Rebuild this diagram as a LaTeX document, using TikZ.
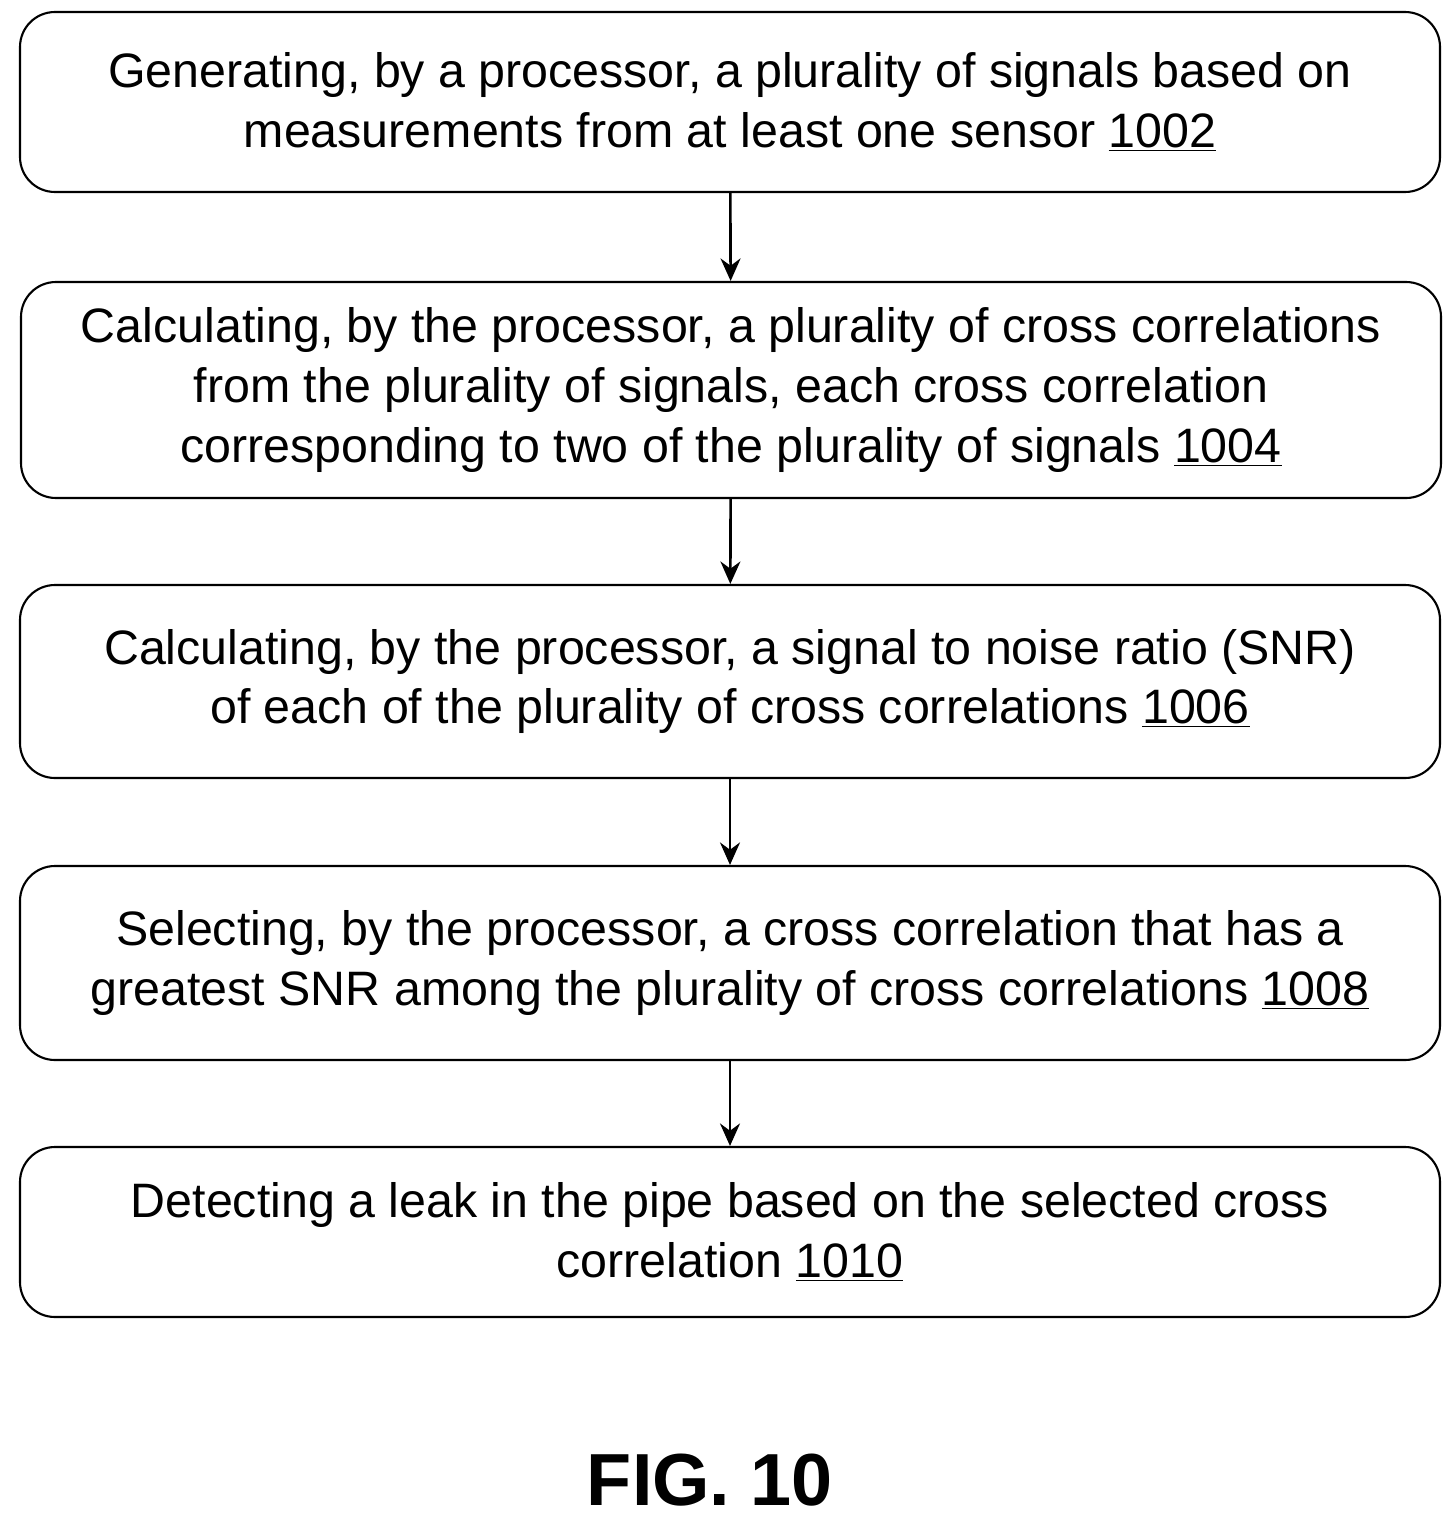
\documentclass[tikz,border=0pt]{standalone}
\usepackage{fontspec}
\setmainfont{Liberation Sans}
\usetikzlibrary{arrows.meta}
\begin{document}
\begin{tikzpicture}[
  stepbox/.style={draw, line width=1.2pt, rounded corners=0.7cm, minimum width=28.4cm,
    align=center, font=\fontsize{27.5}{34}\selectfont},
  flow/.style={-{Stealth[length=0.45cm, width=0.4cm]}, line width=1.5pt}]
\useasboundingbox (0,0) rectangle (29.1,-30.54);
\node [stepbox, minimum height=3.6cm] (s1) at (14.6,-2.04)
  {Generating, by a processor, a plurality of signals based on\\measurements from at least one sensor \underline{1002}};
\node [stepbox, minimum height=4.32cm] (s2) at (14.62,-7.8)
  {Calculating, by the processor, a plurality of cross correlations\\from the plurality of signals, each cross correlation\\corresponding to two of the plurality of signals \underline{1004}};
\node [stepbox, minimum height=3.86cm] (s3) at (14.6,-13.63)
  {Calculating, by the processor, a signal to noise ratio (SNR)\\of each of the plurality of cross correlations \underline{1006}};
\node [stepbox, minimum height=3.88cm] (s4) at (14.6,-19.26)
  {Selecting, by the processor, a cross correlation that has a\\greatest SNR among the plurality of cross correlations \underline{1008}};
\node [stepbox, minimum height=3.4cm] (s5) at (14.6,-24.64)
  {Detecting a leak in the pipe based on the selected cross\\correlation \underline{1010}};
\draw [flow] (s1) -- (s2);
\draw [flow] (s2) -- (s3);
\draw [flow] (s3) -- (s4);
\draw [flow] (s4) -- (s5);
\node (fig) at (14.2,-29.6) {\fontsize{42}{48}\selectfont\bfseries FIG. 10};
\end{tikzpicture}
\end{document}
